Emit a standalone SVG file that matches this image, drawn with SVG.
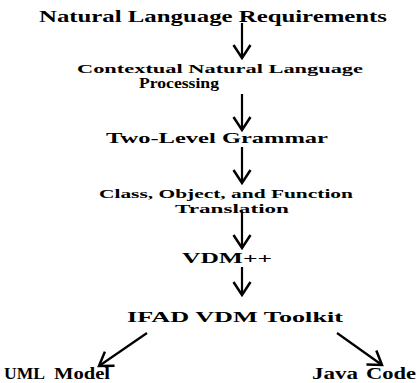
<svg xmlns="http://www.w3.org/2000/svg" width="420" height="383" viewBox="0 0 420 383">
<defs>
<style>
text{font-family:"Liberation Serif","Times New Roman",serif;font-weight:bold;fill:#000}
.c{stroke:#000;stroke-width:2.2;fill:none}
</style>
<marker id="ah" markerUnits="userSpaceOnUse" orient="auto" refX="0" refY="0" markerWidth="30" markerHeight="30" overflow="visible">
<path d="M-13,-8.5 L0,0 L-13,8.5" fill="none" stroke="#000" stroke-width="2.5"/>
</marker>
</defs>
<rect width="420" height="383" fill="#fff"/>
<g id="n1"><text x="39" y="22" font-size="16" textLength="348" lengthAdjust="spacingAndGlyphs">Natural Language Requirements</text></g>
<g id="n2"><text x="77" y="73" font-size="12.5" textLength="286" lengthAdjust="spacingAndGlyphs">Contextual Natural Language</text>
<text x="139" y="88" font-size="14" textLength="80" lengthAdjust="spacingAndGlyphs">Processing</text></g>
<g id="n3"><text x="106" y="143" font-size="15" textLength="222" lengthAdjust="spacingAndGlyphs">Two-Level Grammar</text></g>
<g id="n4"><text x="99" y="198" font-size="13.5" textLength="254" lengthAdjust="spacingAndGlyphs">Class, Object, and Function</text>
<text x="175" y="213" font-size="13.5" textLength="114" lengthAdjust="spacingAndGlyphs">Translation</text></g>
<g id="n5"><text x="182" y="263" font-size="15" textLength="90" lengthAdjust="spacingAndGlyphs">VDM++</text></g>
<g id="n6"><text x="127" y="322" font-size="15" textLength="216" lengthAdjust="spacingAndGlyphs">IFAD VDM Toolkit</text></g>
<g id="n7"><text y="379" font-size="16"><tspan x="4" textLength="40" lengthAdjust="spacingAndGlyphs">UML</tspan> <tspan x="54" textLength="56" lengthAdjust="spacingAndGlyphs">Model</tspan></text></g>
<g id="n8"><text y="379" font-size="16"><tspan x="312" textLength="46" lengthAdjust="spacingAndGlyphs">Java</tspan> <tspan x="366" textLength="50" lengthAdjust="spacingAndGlyphs">Code</tspan></text></g>
<g id="connectors">
<line class="c" x1="242" y1="23" x2="242" y2="58" marker-end="url(#ah)"/>
<line class="c" x1="242" y1="94" x2="242" y2="130" marker-end="url(#ah)"/>
<line class="c" x1="242" y1="147" x2="242" y2="183" marker-end="url(#ah)"/>
<line class="c" x1="242" y1="213" x2="242" y2="248" marker-end="url(#ah)"/>
<line class="c" x1="242" y1="267" x2="242" y2="295" marker-end="url(#ah)"/>
<line class="c" x1="147" y1="333" x2="99" y2="366" marker-end="url(#ah)"/>
<line class="c" x1="337" y1="333" x2="382" y2="365" marker-end="url(#ah)"/>
</g>
</svg>
